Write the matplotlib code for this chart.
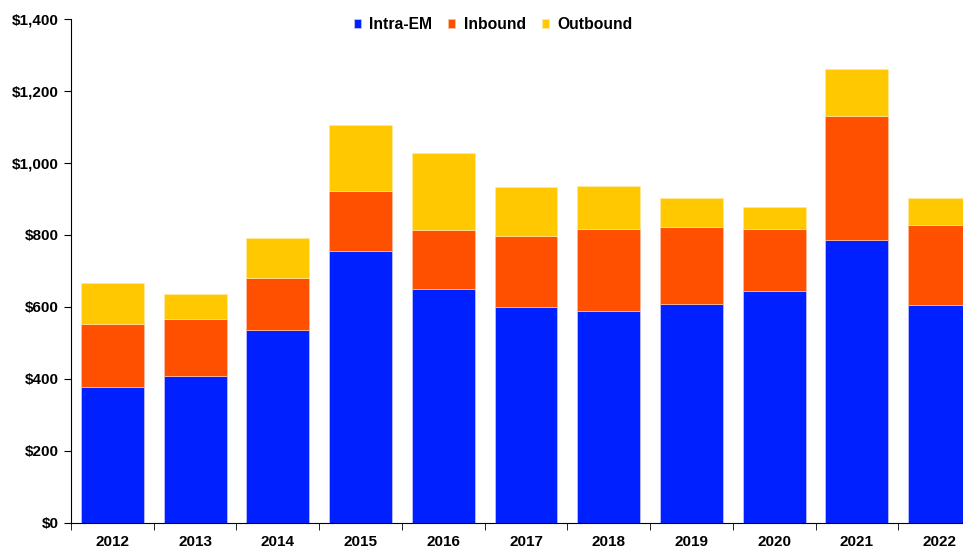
import matplotlib.pyplot as plt
import numpy as np
from matplotlib.ticker import FuncFormatter

plt.rcParams['font.family'] = ['Liberation Sans', 'DejaVu Sans']
plt.rcParams['font.weight'] = 'bold'

years = ["2012", "2013", "2014", "2015", "2016", "2017", "2018", "2019", "2020", "2021", "2022"]
intra_em = [378, 408, 536, 756, 650, 600, 589, 608, 644, 786, 606]
inbound = [175, 159, 145, 166, 164, 197, 228, 214, 173, 345, 222]
outbound = [114, 69, 111, 184, 214, 136, 119, 81, 61, 130, 75]

colors = ["#0020FF", "#FF5000", "#FFC800"]

fig = plt.figure(figsize=(9.63, 5.49), dpi=100)
ax = fig.add_axes([0.0737, 0.0474, 0.945, 0.918])

x = np.arange(len(years))
intra_em = np.array(intra_em)
inbound = np.array(inbound)
outbound = np.array(outbound)

w = 0.76
ax.bar(x, intra_em, w, color=colors[0], label="Intra-EM", edgecolor="#c8c8ff", linewidth=0.5)
ax.bar(x, inbound, w, bottom=intra_em, color=colors[1], label="Inbound", edgecolor="#ffc0a0", linewidth=0.5)
ax.bar(x, outbound, w, bottom=intra_em + inbound, color=colors[2], label="Outbound", edgecolor="#ffe8a0", linewidth=0.5)

ax.set_xlim(-0.5, len(years) - 0.5)
ax.set_ylim(0, 1400)
ax.set_yticks(range(0, 1401, 200))
ax.yaxis.set_major_formatter(FuncFormatter(lambda v, p: "${:,.0f}".format(v)))

ax.set_xticks(x)
ax.set_xticklabels(years)
ax.set_xticks(np.arange(-0.5, len(years), 1), minor=True)
ax.tick_params(axis="x", which="major", length=0, pad=9, labelsize=11)
ax.tick_params(axis="x", which="minor", length=5, direction="out")
ax.tick_params(axis="y", length=5, direction="out", labelsize=11, pad=4)

ax.spines["top"].set_visible(False)
ax.spines["right"].set_visible(False)

fig.legend(loc="center", bbox_to_anchor=(0.512, 0.955), ncol=3, frameon=False,
           fontsize=11.3, handlelength=0.45, handleheight=0.45, handletextpad=0.55,
           columnspacing=1.0)

plt.savefig("out.png", dpi=100)
